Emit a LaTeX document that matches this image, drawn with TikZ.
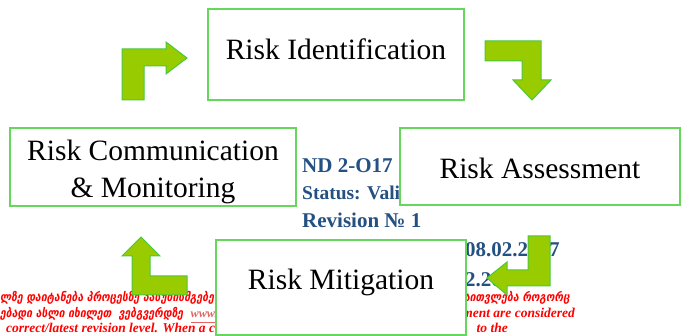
\documentclass[tikz,border=0pt]{standalone}
\usepackage{fontspec}
\setmainfont{Liberation Serif}
\newfontfamily\geofont[FakeStretch=0.85]{DejaVu Sans}
\definecolor{boxgreen}{RGB}{102,214,92}
\definecolor{arrowfill}{RGB}{153,204,0}
\definecolor{arrowedge}{RGB}{70,200,60}
\definecolor{navy}{RGB}{36,80,130}
\definecolor{linkred}{RGB}{225,100,100}
\begin{document}
\begin{tikzpicture}[x=1pt,y=-1pt,
  boxst/.style={draw=boxgreen, line width=1.3pt, fill=white, inner sep=0pt,
    font=\fontsize{29.5}{37}\selectfont},
  arrowst/.style={fill=arrowfill, draw=arrowedge, line width=1pt, line join=miter},
  bluetxt/.style={text=navy, font=\fontsize{21}{25}\selectfont\bfseries, inner sep=0pt, anchor=base west},
  redtxt/.style={text=red, font=\fontsize{13.5}{15}\selectfont\bfseries\itshape, inner sep=0pt},
  georedtxt/.style={text=red, font=\fontsize{12.3}{15}\selectfont\geofont\bfseries\itshape, inner sep=0pt}
]
\useasboundingbox (0,0) rectangle (686,336);

% background status text (blue)
\node[bluetxt] (nd) at (302,173) {ND 2-O17};
\node[bluetxt, font=\fontsize{19.5}{25}\selectfont\bfseries] (status) at (302,200) {Status: Vali};
\node[bluetxt] (rev) at (302,228) {Revision № 1};
\node[bluetxt] (date1) at (465,257) {08.02.2017};
\node[bluetxt] (date2) at (465,287) {2.20};

% background red footer text
\node[georedtxt, anchor=base west] (fl1) at (0,302) {ლზე დაიტანება პროცესზე პასუხისმგებელი};
\node[georedtxt, anchor=base west] (fl2) at (0,318) {ებადი ასლი იხილეთ \ ვებგვერდზე \ \textcolor{linkred}{\fontspec{Liberation Serif}\underline{www.of}}};
\node[redtxt, anchor=base west] (fl3) at (6,332.5) {correct/latest revision level. When a c};
\node[georedtxt, anchor=base east] (fr1) at (570,302) {ჩაითვლება როგორც};
\node[redtxt, anchor=base east] (fr2) at (575,318) {ment are considered};
\node[redtxt, anchor=base east] (fr3) at (508,332.5) {to the};

% boxes
\node[boxst, minimum width=256pt, minimum height=91pt, text height=20pt, text depth=9pt] (ident) at (336,54.5) {Risk Identification};
\node[boxst, minimum width=280pt, minimum height=77pt, text height=24pt, text depth=0.4pt] (assess) at (540,166.5) {Risk Assessment};
\node[boxst, minimum width=286pt, minimum height=78pt] (comm) at (153,167) {};
\node[font=\fontsize{29.5}{37}\selectfont, align=center, inner sep=0pt] (commtext) at (153,171.7) {Risk Communication\\\& Monitoring};
\node[boxst, minimum width=250pt, minimum height=95pt, text height=20pt, text depth=15pt] (mitig) at (341,287.5) {Risk Mitigation};

% bent block arrows
\path[arrowst] (122,100) -- (122,49) -- (166,49) -- (166,42) -- (187,58) -- (166,74) -- (166,66) -- (144,66) -- (144,100) -- cycle;
\path[arrowst] (485,41) -- (541,41) -- (541,80) -- (551,80) -- (532,100) -- (513,80) -- (522,80) -- (522,61) -- (485,61) -- cycle;
\path[arrowst] (528,236) -- (550,236) -- (550,286) -- (507,286) -- (507,295) -- (487,278) -- (507,262) -- (507,270) -- (528,270) -- cycle;
\path[arrowst] (141,237) -- (160,256) -- (150,256) -- (150,276) -- (187,276) -- (187,295) -- (132,295) -- (132,256) -- (122,256) -- cycle;
\end{tikzpicture}
\end{document}
